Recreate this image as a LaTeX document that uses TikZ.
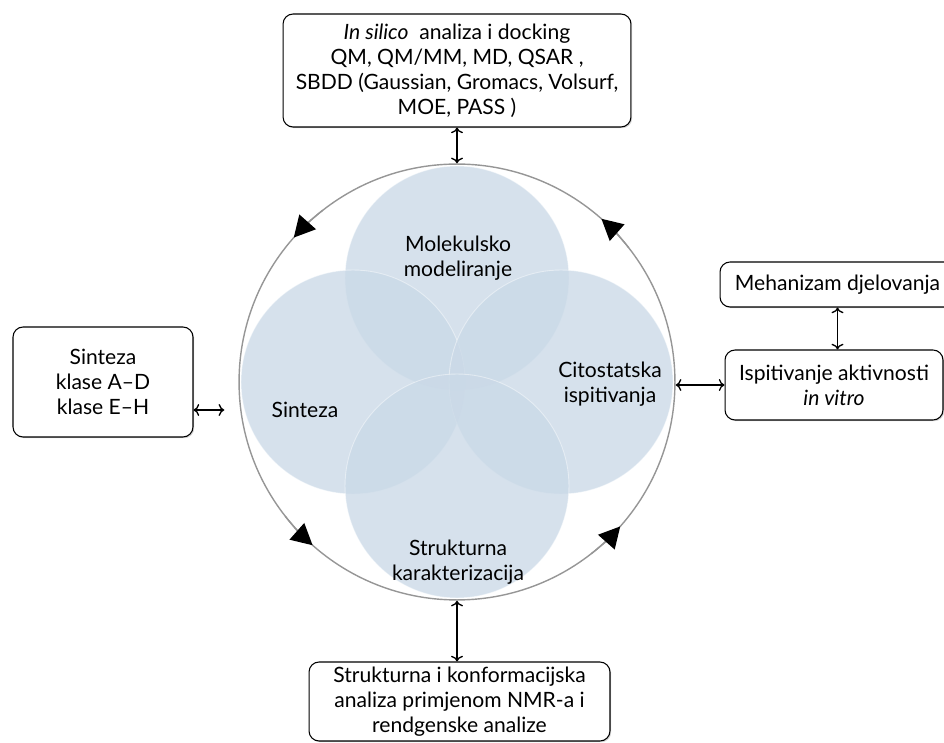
\documentclass[tikz,border=0pt]{standalone}
\usepackage{fontspec}
\setmainfont{Lato}
\usetikzlibrary{arrows.meta,shadows}
\definecolor{petal}{RGB}{202,217,231}
\definecolor{rim}{RGB}{150,150,150}
\tikzset{
  infobox/.style={draw, rounded corners=0.2cm, fill=white, align=center, line width=0.6pt,
    inner sep=0pt, drop shadow={shadow xshift=0.7pt,shadow yshift=-0.7pt,opacity=0.35}},
  petal/.style={fill=petal, fill opacity=0.78, draw=white, draw opacity=0.45, line width=0.5pt},
  link/.style={<->, line width=0.75pt},
  turn/.style={rim, line width=0.8pt, -{Triangle[length=0.42cm,width=0.44cm,color=black]}},
}
\begin{document}
\begin{tikzpicture}[x=0.02cm,y=-0.02cm,font=\fontsize{12}{14.2}\selectfont]
  \useasboundingbox (0,0) rectangle (944,743);
  % four overlapping discs
  \filldraw[petal] (457,278) circle (2.24cm);
  \filldraw[petal] (353,382) circle (2.24cm);
  \filldraw[petal] (561,382) circle (2.24cm);
  \filldraw[petal] (457,486) circle (2.24cm);
  \node[draw=rim, line width=0.8pt, circle, minimum size=8.72cm, inner sep=0pt] (rim) at (457,382) {};
  % cycle arrows
  \draw[turn] (rim.center) ++(128:4.36cm) arc[start angle=128, end angle=138.5, radius=4.36cm];
  \draw[turn] (rim.center) ++(38:4.36cm) arc[start angle=38, end angle=48.5, radius=4.36cm];
  \draw[turn] (rim.center) ++(218:4.36cm) arc[start angle=218, end angle=228.5, radius=4.36cm];
  \draw[turn] (rim.center) ++(308:4.36cm) arc[start angle=308, end angle=318.5, radius=4.36cm];

  \node[align=center] (mol) at (458,258) {Molekulsko\\modeliranje};
  \node (syn) at (305,410) {Sinteza};
  \node[align=center] (cito) at (610,384) {Citostatska\\ispitivanja};
  \node[align=center] (str) at (458,562) {Strukturna\\karakterizacija};

  \node[infobox, minimum width=6.96cm, minimum height=2.26cm] (silico) at (457,70.5)
    {\textit{In silico}\ \ analiza i docking\\QM, QM/MM, MD, QSAR ,\\SBDD (Gaussian, Gromacs, Volsurf,\\MOE, PASS )};
  \node[infobox, minimum width=3.6cm, minimum height=2.2cm] (synbox) at (103,382)
    {Sinteza\\klase A--D\\klase E--H};
  \node[infobox, minimum width=4.7cm, minimum height=0.9cm] (mech) at (837.5,284.5)
    {Mehanizam djelovanja};
  \node[infobox, minimum width=4.36cm, minimum height=1.4cm] (vitro) at (834,385)
    {Ispitivanje aktivnosti\\\textit{in vitro}};
  \node[infobox, minimum width=6.02cm, minimum height=1.58cm] (nmr) at (459.5,701.5)
    {Strukturna i konformacijska\\analiza primjenom NMR-a i\\rendgenske analize};

  \draw[link] (silico) -- (rim);
  \draw[link, shorten >=8pt] (synbox.east |- 0,410) -- (rim.west |- 0,410);
  \draw[link] (rim.east |- vitro.west) -- (vitro.west);
  \draw[link] (mech) -- (mech |- vitro.north);
  \draw[link] (rim.south) -- (rim.south |- nmr.north);
\end{tikzpicture}
\end{document}
